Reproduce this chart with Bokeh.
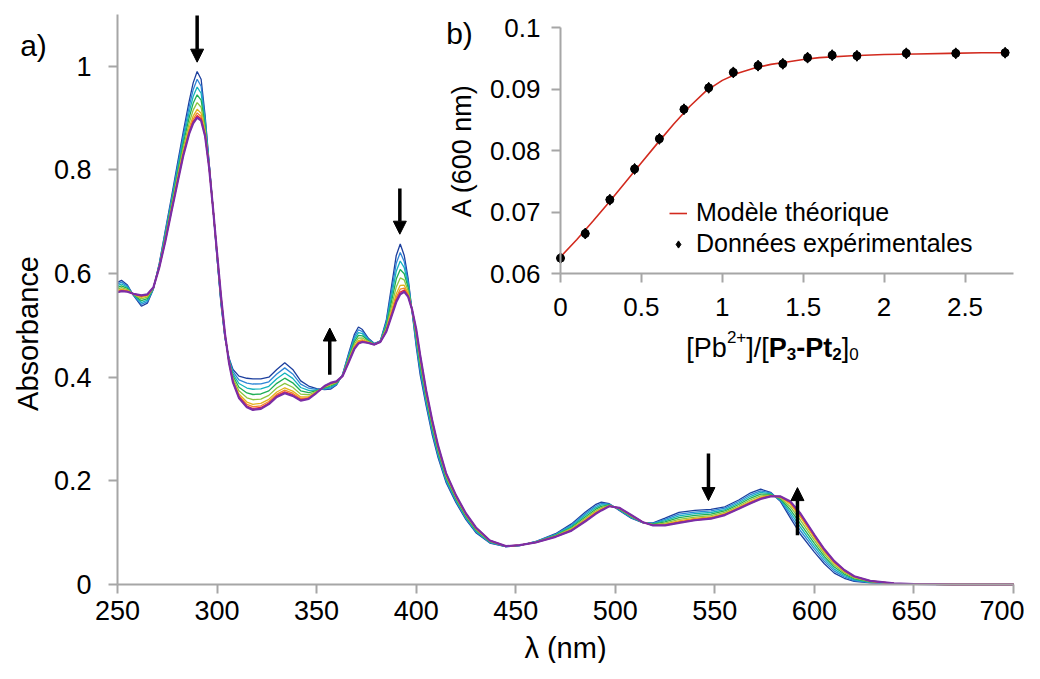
import math
import numpy as np
from bokeh.plotting import figure
from bokeh.models import (Range1d, LinearAxis, FixedTicker, CustomJSTickFormatter,
                          Arrow, NormalHead, Label, Legend, LegendItem)
from bokeh.embed import file_html
from bokeh.resources import INLINE

FONT = "Liberation Sans"

# ---------------- data: main panel (UV-vis titration spectra) ----------------
wavelength_nm = [250, 252, 255, 258, 262, 265, 268, 271, 274, 277, 280, 283, 286, 288, 290,
                 292, 294, 296, 298, 300, 302, 304, 306, 308, 311, 315, 318, 322, 326, 330,
                 334, 338, 342, 346, 350, 354, 357, 360, 363, 366, 369, 371, 373, 376, 379,
                 382, 385, 388, 390, 392, 394, 396, 398, 400, 402, 405, 408, 411, 415, 420,
                 425, 430, 437, 445, 452, 460, 470, 478, 485, 490, 493, 497, 502, 508, 514,
                 519, 525, 532, 540, 548, 555, 562, 568, 573, 578, 583, 588, 593, 600, 605,
                 610, 615, 620, 628, 640, 650, 670, 700]

# first spectrum (no Pb2+, dark blue)
abs_start = [0.583, 0.587, 0.578, 0.558, 0.537, 0.543, 0.570, 0.620, 0.683, 0.745, 0.810, 0.873,
             0.933, 0.968, 0.990, 0.975, 0.905, 0.815, 0.725, 0.630, 0.540, 0.475, 0.437, 0.415,
             0.402, 0.398, 0.397, 0.397, 0.400, 0.415, 0.428, 0.415, 0.393, 0.383, 0.378, 0.376,
             0.377, 0.385, 0.405, 0.445, 0.483, 0.497, 0.492, 0.475, 0.465, 0.470, 0.510, 0.585,
             0.635, 0.657, 0.635, 0.590, 0.525, 0.460, 0.405, 0.345, 0.290, 0.245, 0.197, 0.158,
             0.125, 0.100, 0.080, 0.073, 0.075, 0.083, 0.098, 0.117, 0.140, 0.154, 0.159, 0.156,
             0.143, 0.128, 0.119, 0.119, 0.128, 0.139, 0.143, 0.145, 0.150, 0.163, 0.177, 0.184,
             0.178, 0.160, 0.128, 0.097, 0.0625, 0.040, 0.022, 0.012, 0.006, 0.003, 0.001,
             0.0005, 0.0, 0.0]

# last spectrum (excess Pb2+, purple)
abs_end = [0.564, 0.566, 0.565, 0.561, 0.558, 0.560, 0.573, 0.612, 0.662, 0.718, 0.773, 0.827,
           0.870, 0.890, 0.901, 0.895, 0.865, 0.805, 0.725, 0.640, 0.556, 0.483, 0.428, 0.390,
           0.360, 0.342, 0.337, 0.339, 0.348, 0.362, 0.369, 0.364, 0.355, 0.358, 0.370, 0.383,
           0.389, 0.392, 0.402, 0.428, 0.455, 0.465, 0.468, 0.466, 0.463, 0.468, 0.488, 0.522,
           0.545, 0.560, 0.565, 0.555, 0.530, 0.493, 0.443, 0.375, 0.318, 0.268, 0.215, 0.172,
           0.137, 0.110, 0.085, 0.074, 0.076, 0.081, 0.092, 0.104, 0.122, 0.136, 0.143, 0.151,
           0.148, 0.134, 0.120, 0.114, 0.114, 0.119, 0.124, 0.127, 0.134, 0.146, 0.157, 0.165,
           0.170, 0.170, 0.160, 0.137, 0.096, 0.068, 0.045, 0.028, 0.016, 0.007, 0.002,
           0.001, 0.0, 0.0]

# absorbance at 290 nm read for every recorded spectrum (progress of the titration)
peak_290 = [0.990, 0.975, 0.960, 0.945, 0.930, 0.917, 0.910, 0.905, 0.902, 0.901]
curve_colors = ["#1c3f9e", "#2e86d6", "#14b3bd", "#1fae55", "#8dc63f",
                "#e3b21b", "#f0862a", "#e5262f", "#d6249b", "#7a2ea6"]

# ---------------- data: inset (A at 600 nm vs ratio) ----------------
ratio_exp = [0.0, 0.153, 0.305, 0.458, 0.611, 0.763, 0.916, 1.068, 1.221, 1.374,
             1.527, 1.679, 1.832, 2.137, 2.443, 2.748]
a600_exp = [0.0625, 0.0665, 0.0720, 0.0770, 0.0819, 0.0867, 0.0902, 0.0927, 0.0938, 0.0941,
            0.0951, 0.0955, 0.0954, 0.0958, 0.0958, 0.0959]
ratio_model = [0.0, 0.1, 0.2, 0.3, 0.4, 0.5, 0.6, 0.7, 0.8, 0.9, 1.0, 1.1, 1.2, 1.3, 1.4,
               1.5, 1.6, 1.8, 2.0, 2.2, 2.4, 2.6, 2.75]
a600_model = [0.0627, 0.0655, 0.0685, 0.0716, 0.0748, 0.0780, 0.0812, 0.0843, 0.0872,
              0.0897, 0.0914, 0.0926, 0.0934, 0.0940, 0.0944, 0.0948, 0.0951, 0.0954,
              0.0956, 0.0957, 0.0958, 0.0959, 0.0959]

main_xticks = [250, 300, 350, 400, 450, 500, 550, 600, 650, 700]
main_yticks = [0, 0.2, 0.4, 0.6, 0.8, 1.0]
inset_xticks = [0, 0.5, 1, 1.5, 2, 2.5]
inset_yticks = [0.06, 0.07, 0.08, 0.09, 0.1]

# ---------------- layout geometry (pixels of the canvas) ----------------
W_PX, H_PX = 1024, 663
MX0, MX1, MY0, MY1 = 117, 1013, 584, 14          # main axes box: x=250..700, y=0..1.1
IX0, IKX, IY0, IKY = 560, 161.8, 273, 6150.0     # inset origin and px per unit

kx = (MX1 - MX0) / 450.0
ky = (MY0 - MY1) / 1.1

p = figure(width=W_PX, height=H_PX, output_backend="svg", toolbar_location=None,
           x_range=Range1d(250 - MX0 / kx, 700 + (W_PX - MX1) / kx),
           y_range=Range1d(0 - (H_PX - MY0) / ky, 1.1 + MY1 / ky),
           x_axis_type=None, y_axis_type=None, min_border=0)
p.outline_line_color = None
p.background_fill_color = "white"
p.border_fill_color = "white"
p.grid.visible = False

p.extra_x_ranges = {"ix": Range1d(-IX0 / IKX, (W_PX - IX0) / IKX)}
p.extra_y_ranges = {"iy": Range1d(0.06 - (H_PX - IY0) / IKY, 0.06 + IY0 / IKY)}

fmt = CustomJSTickFormatter(code="return String(parseFloat(tick.toFixed(3)));")
AX = "#a6a6a6"


def style(ax, fs, standoff):
    ax.axis_line_color = AX
    ax.axis_line_width = 2
    ax.major_tick_line_color = AX
    ax.major_tick_line_width = 2
    ax.major_tick_out = 9
    ax.major_tick_in = 0
    ax.minor_tick_line_color = None
    ax.major_label_text_font = FONT
    ax.major_label_text_font_size = fs
    ax.major_label_text_color = "black"
    ax.major_label_standoff = standoff
    ax.formatter = fmt
    ax.axis_label_text_font = FONT
    ax.axis_label_text_font_style = "normal"
    ax.axis_label_text_color = "black"


xa = LinearAxis(fixed_location=0, bounds=(250, 700), ticker=FixedTicker(ticks=main_xticks))
style(xa, "27px", 7)
xa.axis_label = "λ (nm)"
xa.axis_label_text_font_size = "29px"
xa.axis_label_standoff = 9
p.add_layout(xa, "below")

ya = LinearAxis(fixed_location=250, bounds=(0, 1.1), ticker=FixedTicker(ticks=main_yticks))
style(ya, "27px", 17)
p.add_layout(ya, "left")

iya = LinearAxis(x_range_name="ix", y_range_name="iy", fixed_location=0, bounds=(0.06, 0.1),
                 ticker=FixedTicker(ticks=inset_yticks))
style(iya, "26px", 11)
iya.axis_label = "A (600 nm)"
iya.axis_label_text_font_size = "27px"
iya.axis_label_standoff = 10
p.add_layout(iya, "left")

ixa = LinearAxis(x_range_name="ix", y_range_name="iy", fixed_location=0.06, bounds=(0, 2.8),
                 ticker=FixedTicker(ticks=inset_xticks))
style(ixa, "26px", 15)
p.add_layout(ixa, "below")

# ---------------- spectra ----------------
a0 = np.array(abs_start)
a1 = np.array(abs_end)
for h, c in zip(peak_290, curve_colors):
    f = (peak_290[0] - h) / (peak_290[0] - peak_290[-1])
    lw = 2.2 if c == curve_colors[-1] else 1.3
    p.line(wavelength_nm, a0 + f * (a1 - a0), line_color=c, line_width=lw)

# arrows
head = dict(size=13, fill_color="black", line_color="black")
for (x0, y0, y1) in [(290, 1.098, 1.008), (391.8, 0.764, 0.676), (356.6, 0.405, 0.495),
                     (546.8, 0.253, 0.162), (591.5, 0.095, 0.187)]:
    p.add_layout(Arrow(end=NormalHead(**head), x_start=x0, y_start=y0, x_end=x0, y_end=y1,
                       line_color="black", line_width=3.5))

# ---------------- inset curves ----------------
r_model = p.line(ratio_model, a600_model, x_range_name="ix", y_range_name="iy",
                 line_color="#d22a1e", line_width=1.6)
p.scatter(ratio_exp, a600_exp, x_range_name="ix", y_range_name="iy", marker="circle",
          size=8, fill_color="black", line_color="black")
r_dia = p.scatter(ratio_exp, a600_exp, x_range_name="ix", y_range_name="iy", marker="diamond",
                  size=11, fill_color="black", line_color="black")

legend = Legend(items=[LegendItem(label="Modèle théorique", renderers=[r_model]),
                       LegendItem(label="Données expérimentales", renderers=[r_dia])],
                location=(669, H_PX - 258), background_fill_alpha=0, border_line_color=None,
                label_text_font=FONT, label_text_font_size="25px", label_text_color="black",
                glyph_width=18, glyph_height=26, label_standoff=9, spacing=2, padding=0,
                margin=0, label_height=26)
p.add_layout(legend)


def px2main(x, y):
    return 250 + (x - MX0) / kx, (MY0 - y) / ky


# ---------------- titles / panel letters ----------------
ax_, ay_ = px2main(27, 333)
p.add_layout(Label(x=ax_, y=ay_, text="Absorbance", angle=math.pi / 2, text_align="center",
                   text_baseline="middle", text_font=FONT, text_font_size="29px",
                   text_color="black"))
ax_, ay_ = px2main(33, 45)
p.add_layout(Label(x=ax_, y=ay_, text="a)", text_align="center", text_baseline="middle",
                   text_font=FONT, text_font_size="30px", text_color="black"))
ax_, ay_ = px2main(459, 33)
p.add_layout(Label(x=ax_, y=ay_, text="b)", text_align="center", text_baseline="middle",
                   text_font=FONT, text_font_size="30px", text_color="black"))

# inset x title built from pieces: [Pb2+]/[P3-Pt2]0
W = {"[": 278, "P": 667, "b": 556, "]": 278, "/": 278, "-": 333, "t": 278, "0": 556,
     "2": 556, "3": 556, "+": 584}
WB = {"P": 667, "-": 333, "t": 333, "2": 556, "3": 556}
BIG, SMALL = 27, 17
pieces = [("[Pb", BIG, False, 0), ("2+", SMALL, False, 11), ("]/[", BIG, False, 0),
          ("P", BIG, True, 0), ("3", SMALL, True, -6), ("-Pt", BIG, True, 0),
          ("2", SMALL, True, -6), ("]", BIG, False, 0), ("0", SMALL, False, -6)]


def width(t, fs, bold):
    tbl = WB if bold else W
    return sum(tbl.get(ch, W.get(ch, 556)) for ch in t) * fs / 1000.0


total = sum(width(t, fs, b) for t, fs, b, _ in pieces)
off = -total / 2
tx, ty = (772 - IX0) / IKX, 0.06 - (347 - IY0) / IKY
for t, fs, b, dy in pieces:
    p.add_layout(Label(x=tx, y=ty, x_range_name="ix", y_range_name="iy",
                       x_offset=off, y_offset=dy, text=t, text_color="black",
                       text_font=FONT, text_font_size=f"{fs}px",
                       text_font_style="bold" if b else "normal",
                       text_align="left", text_baseline="alphabetic"))
    off += width(t, fs, b)

open("out.html", "w").write(file_html(p, INLINE))
